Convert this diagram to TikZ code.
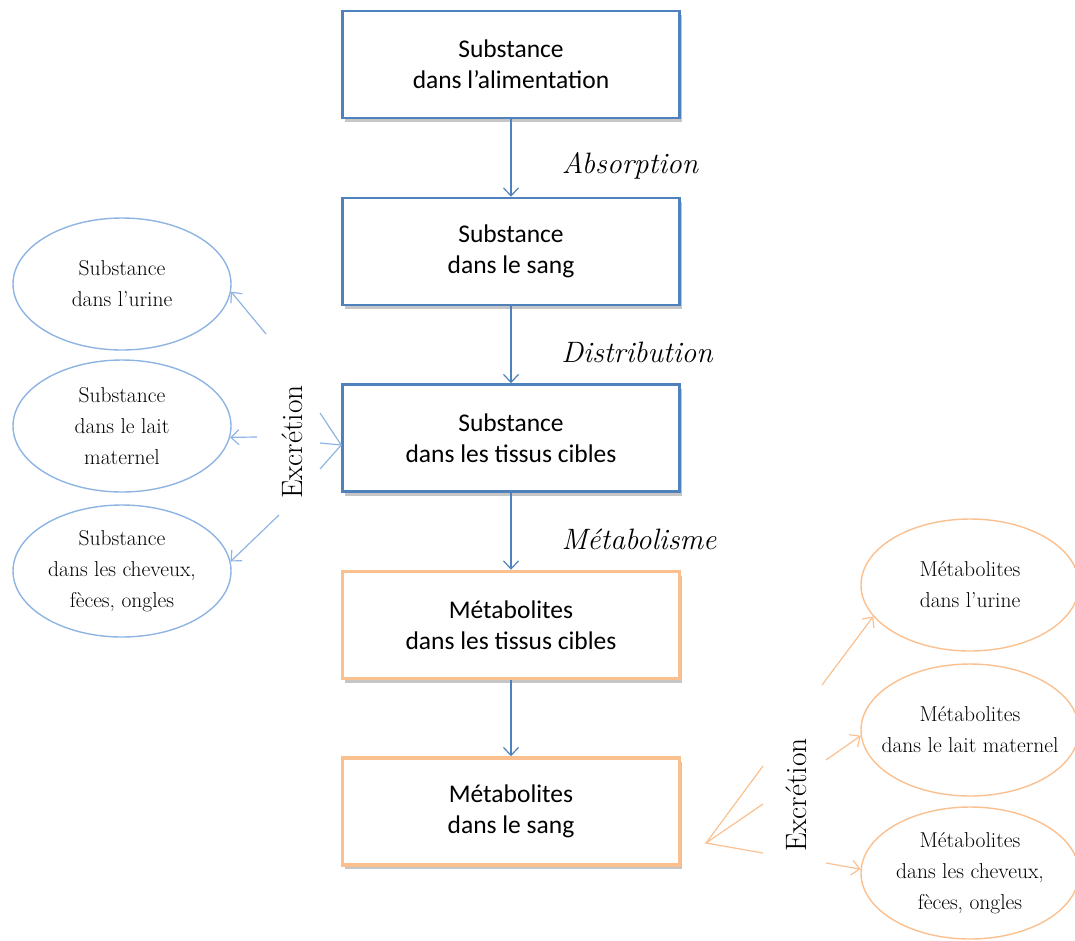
\documentclass[tikz,border=0pt]{standalone}
\usepackage{fontspec}
\newfontfamily\boxfont{Carlito}
\usetikzlibrary{shapes.geometric,arrows.meta,shadows}
\definecolor{boxblue}{HTML}{4F81BD}
\definecolor{ellblue}{HTML}{8EB4E3}
\definecolor{orng}{HTML}{FAC090}
\tikzset{
  box/.style={draw=boxblue, line width=2.5pt, fill=white, minimum width=337pt, minimum height=107pt,
    align=center, font=\boxfont\fontsize{25.5}{31}\selectfont, inner sep=0pt,
    drop shadow={opacity=0.45, shadow xshift=2pt, shadow yshift=-4pt}},
  obox/.style={box, draw=orng, line width=3.5pt},
  bell/.style={ellipse, draw=ellblue, line width=1.4pt, minimum width=218pt, minimum height=132pt,
    inner sep=0pt, align=center, font=\fontsize{21.5}{31}\selectfont},
  oell/.style={bell, draw=orng},
  wideell/.style={inner xsep=-30pt},
  proc/.style={font=\itshape\fontsize{29.5}{32}\selectfont},
  exc/.style={font=\fontsize{29.5}{32}\selectfont, rotate=90},
  barb/.style={-{Straight Barb[length=8pt,width=15pt]}},
  flow/.style={draw=boxblue, line width=1.2pt, barb},
  bl/.style={draw=ellblue, line width=1.2pt},
  ol/.style={draw=orng, line width=1.2pt}
}
\begin{document}
\begin{tikzpicture}[x=1pt,y=-1pt]
\useasboundingbox (0,0) rectangle (1075,940);
% main boxes
\node[box]  (b1) at (511,64.5) {Substance\\dans l’alimentation};
\node[box]  (b2) at (511,251.5) {Substance\\dans le sang};
\node[box]  (b3) at (511,438) {Substance\\dans les tissus cibles};
\node[obox] (b4) at (511,625) {Métabolites\\dans les tissus cibles};
\node[obox] (b5) at (511,811.5) {Métabolites\\dans le sang};
\draw[flow] (b1.south) -- (b2.north);
\draw[flow] (b2.south) -- (b3.north);
\draw[flow] (b3.south) -- (b4.north);
\draw[flow] (b4.south) -- (b5.north);
% process labels
\node[proc] (pa) at (630,166) {Absorption};
\node[proc] (pd) at (637,352) {Distribution};
\node[proc] (pm) at (639,539) {Métabolisme};
% left ellipses
\node[bell] (l1) at (122,284) {Substance\\dans l’urine};
\node[bell] (l2) at (122,426) {Substance\\dans le lait\\maternel};
\node[bell] (l3) at (122,571) {Substance\\dans les cheveux,\\fèces, ongles};
\node[exc] (ex1) at (292,442) {Excrétion};
\coordinate (la1) at (266,334);
\coordinate (la2) at (257,437);
\coordinate (la3) at (279,515);
\draw[bl, barb] (la1) -- (l1.-4);
\draw[bl, barb] (la2) -- (l2.-6);
\draw[bl, barb] (la3) -- (l3.5);
\coordinate (lt) at ([yshift=-7pt]b3.west);
\coordinate (lv1) at (320,413);
\coordinate (lv2) at (320,443);
\coordinate (lv3) at (320,469);
\draw[bl] (lv1) -- (lt) -- (lv3);
\draw[bl] (lv2) -- (lt);
% right ellipses
\node[oell] (r1) at (970,585) {Métabolites\\dans l’urine};
\node[oell, wideell] (r2) at (970,730) {Métabolites\\dans le lait maternel};
\node[oell] (r3) at (970,873) {Métabolites\\dans les cheveux,\\fèces, ongles};
\node[exc] (ex2) at (796,795) {Excrétion};
\coordinate (rv) at (706,843);
\coordinate (rv1) at (763,766);
\coordinate (rv2) at (763,804);
\coordinate (rv3) at (763,853);
\draw[ol] (rv1) -- (rv) -- (rv3);
\draw[ol] (rv2) -- (rv);
\coordinate (ra1) at (822,685);
\coordinate (ra2) at (826,760);
\coordinate (ra3) at (826,863);
\draw[ol, barb] (ra1) -- (r1.198);
\draw[ol, barb] (ra2) -- (r2.183);
\draw[ol, barb] (ra3) -- (r3.178);
\end{tikzpicture}
\end{document}
